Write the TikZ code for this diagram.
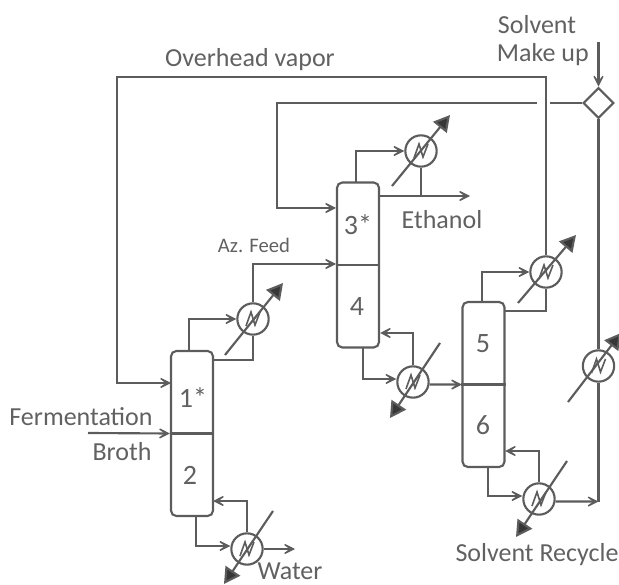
\documentclass[tikz,border=0pt]{standalone}
\usepackage{fontspec}
\setmainfont{Carlito}
\usetikzlibrary{arrows.meta,shapes.geometric}
\definecolor{ink}{gray}{0.36}
\definecolor{txt}{gray}{0.38}
\tikzset{
  col/.style={draw=ink,line width=1.6pt,rounded corners=4pt,minimum width=31.5pt,minimum height=123.75pt,inner sep=0pt,fill=white},
  hx/.style={draw=ink,line width=1.6pt,circle,minimum size=23.5pt,inner sep=0pt},
  mix/.style={draw=ink,line width=1.6pt,diamond,minimum width=23pt,minimum height=23pt,inner sep=0pt,fill=white},
  flow/.style={draw=ink,line width=1.6pt,-{Stealth[length=13pt,width=13pt,inset=9pt,fill=ink]}},
  pipe/.style={draw=ink,line width=1.6pt},
  util/.style={draw=ink,line width=1.6pt,-{Triangle[length=12pt,width=13pt,fill=ink!60!black]}},
  lab/.style={text=txt,font=\fontsize{19.5}{22}\selectfont,inner sep=0pt},
  small/.style={text=txt,font=\fontsize{15.5}{18}\selectfont,inner sep=0pt},
  num/.style={text=txt,font=\fontsize{21}{24}\selectfont,inner sep=0pt},
}
\newcommand{\zig}[1]{\draw[pipe,line width=1.2pt,shift={(#1)}] (-7,7) -- (-2,-7) -- (2,6) -- (7,-7);}
\begin{document}
\begin{tikzpicture}[x=0.75pt,y=-0.75pt]
\useasboundingbox (0,0) rectangle (619,585);
% columns
\node[col] (c1) at (192,433.5) {};
\node[col] (c2) at (358,265) {};
\node[col] (c3) at (483.5,384.5) {};
\draw[pipe] (c1.west) -- (c1.east);
\draw[pipe] (c2.west) -- (c2.east);
\draw[pipe] (c3.west) -- (c3.east);
% exchangers
\node[hx] (h1) at (253,319) {};
\node[hx] (h2) at (247,549) {};
\node[hx] (h3) at (421,151) {};
\node[hx] (h4) at (413,382) {};
\node[hx] (h5) at (546,272) {};
\node[hx] (h6) at (539,499) {};
\node[hx] (h7) at (598.5,366) {};
\node[mix] (m) at (598.5,103) {};
\zig{h1}\zig{h2}\zig{h3}\zig{h4}\zig{h5}\zig{h6}\zig{h7}
% utility lines
\coordinate (u1a) at (225,355); \coordinate (u1b) at (283,283);
\coordinate (u2a) at (273,511); \coordinate (u2b) at (224,584);
\coordinate (u3a) at (392,186); \coordinate (u3b) at (450,115);
\coordinate (u4a) at (440,343); \coordinate (u4b) at (390,418);
\coordinate (u5a) at (518,303); \coordinate (u5b) at (576,235);
\coordinate (u6a) at (567,461); \coordinate (u6b) at (516,537);
\coordinate (u7a) at (568,402); \coordinate (u7b) at (621,333);
\draw[util] (u1a) -- (u1b);
\draw[util] (u2a) -- (u2b);
\draw[util] (u3a) -- (u3b);
\draw[util] (u4a) -- (u4b);
\draw[util] (u5a) -- (u5b);
\draw[util] (u6a) -- (u6b);
\draw[util] (u7a) -- (u7b);
% column 1 connections
\coordinate (f1) at (88,433);
\draw[flow] (f1) -- (c1.west);
\coordinate (t1) at (189,351); \coordinate (r1) at (213,360);
\draw[flow] (t1) |- (h1.west);
\draw[pipe] (r1) -| (h1.south);
\coordinate (b1) at (196,516); \coordinate (br1) at (213,501);
\draw[flow] (b1) |- ([yshift=2.25pt]h2.west);
\draw[flow] (h2.north) |- (br1);
\coordinate (w) at (295,549);
\draw[flow] (h2.east) -- (w);
% overhead vapor
\coordinate (ov) at (117,77); \coordinate (ov2) at (171,383);
\draw[flow] (h5.north) |- (ov) |- (ov2);
% az feed
\coordinate (az) at (336,264);
\draw[flow] (h1.north) |- (az);
% column 2
\coordinate (t2) at (356,183); \coordinate (r2) at (380,196); \coordinate (e) at (470,196);
\draw[flow] (t2) |- (h3.west);
\draw[flow] (r2) -- (e);
\coordinate (j2) at (421,196);
\draw[pipe] (h3.south) -- (j2);
\coordinate (b2) at (363,347); \coordinate (br2) at (380,333);
\draw[flow] (b2) |- ([yshift=2.25pt]h4.west);
\draw[flow] (h4.north) |- (br2);
\coordinate (l3) at (462,384.5);
\draw[flow] ([yshift=-1.9pt]h4.east) -- (l3);
% column 3
\coordinate (t3) at (482,302); \coordinate (r3) at (505,311);
\draw[flow] (t3) |- (h5.west);
\draw[pipe] (r3) -| (h5.south);
\coordinate (b3) at (488,467); \coordinate (br3) at (505,451);
\draw[flow] (b3) |- ([yshift=2.25pt]h6.west);
\draw[flow] (h6.north) |- (br3);
\coordinate (j3) at (598.5,501.5);
\draw[flow] ([yshift=-1.9pt]h6.east) -- (j3);
% recycle and make up
\coordinate (gapr) at (550,103); \coordinate (gapl) at (537,103);
\coordinate (lp) at (277,103); \coordinate (c2in) at (336,208);
\draw[pipe] (m.west) -- (gapr);
\draw[flow] (gapl) -- (lp) |- (c2in);
\draw[pipe] (m.south) -- (h7.north);
\draw[pipe] (h7.south) -- (j3);
\coordinate (mu) at (598.5,42);
\draw[flow] (mu) -- (m.north);
% labels
\node[lab] (l1) at (81,417) {Fermentation};
\node[lab] (l2) at (122,452) {Broth};
\node[lab] (l3t) at (250,60) {Overhead vapor};
\node[small] (l4) at (254,245) {Az. Feed};
\node[lab] (l5) at (442,220) {Ethanol};
\node[lab] (l6) at (290,571) {Water};
\node[lab] (l7) at (537,25) {Solvent};
\node[lab,anchor=east] (l8) at (589,55) {Make up};
\node[lab] (l9) at (537,555) {Solvent Recycle};
\node[num] (n1) at (193,398) {1*};
\node[num] (n2) at (190,475) {2};
\node[num] (n3) at (358,225) {3*};
\node[num] (n4) at (357,307) {4};
\node[num] (n5) at (483,344) {5};
\node[num] (n6) at (483,425) {6};
\end{tikzpicture}
\end{document}
